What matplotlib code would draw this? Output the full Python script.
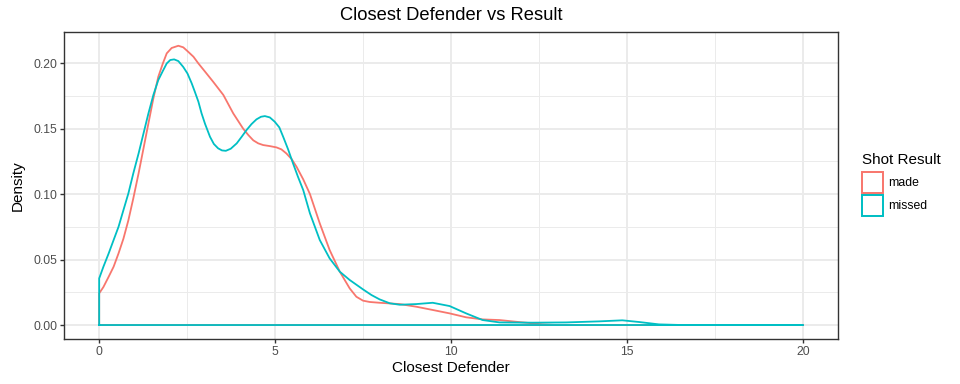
import matplotlib
matplotlib.use("Agg")
import matplotlib.pyplot as plt
from matplotlib.patches import Rectangle

plt.rcParams['font.family'] = ['Liberation Sans', 'DejaVu Sans']

# ---- data ----
made_x = [0, 0.12, 0.27, 0.41, 0.55, 0.69, 0.83, 0.97, 1.12, 1.26, 1.40, 1.54, 1.68, 1.81, 1.92,
          2.06, 2.25, 2.39, 2.53, 2.68, 2.82, 3.01, 3.24, 3.53, 3.81, 4.09, 4.24, 4.38, 4.52,
          4.66, 4.85, 5.04, 5.18, 5.32, 5.47, 5.61, 5.80, 5.99, 6.27, 6.55, 6.84, 7.12, 7.31,
          7.50, 7.69, 7.97, 8.54, 9.01, 9.48, 9.96, 10.43, 10.90, 11.38, 11.85, 12.32, 12.60,
          13.00, 20]
made_y = [0.0242, 0.029, 0.0369, 0.0445, 0.0547, 0.066, 0.080, 0.0967, 0.1158, 0.1349, 0.154,
          0.173, 0.1895, 0.1997, 0.2074, 0.2115, 0.2132, 0.212, 0.2086, 0.2048, 0.1997, 0.1934,
          0.1857, 0.1756, 0.1616, 0.150, 0.145, 0.141, 0.1387, 0.1374, 0.1366, 0.1356, 0.1341,
          0.131, 0.1267, 0.1208, 0.1112, 0.100, 0.0776, 0.0573, 0.0407, 0.028, 0.0216, 0.0186,
          0.0176, 0.017, 0.016, 0.014, 0.0115, 0.0089, 0.0059, 0.0043, 0.0038, 0.0025, 0.0013,
          0.0005, 0.0, 0.0]

missed_x = [0, 0.12, 0.27, 0.41, 0.55, 0.69, 0.83, 0.97, 1.12, 1.26, 1.40, 1.54, 1.68, 1.81,
            1.92, 2.02, 2.13, 2.25, 2.39, 2.51, 2.63, 2.72, 2.82, 2.91, 3.01, 3.15, 3.26, 3.38,
            3.49, 3.60, 3.74, 3.91, 4.05, 4.19, 4.33, 4.47, 4.60, 4.71, 4.85, 4.99, 5.12, 5.23,
            5.37, 5.51, 5.65, 5.80, 5.99, 6.27, 6.55, 6.84, 7.12, 7.50, 7.74, 7.97, 8.26, 8.54,
            9.01, 9.48, 9.96, 10.43, 10.90, 11.38, 12.32, 13.27, 14.21, 14.87, 15.35, 15.91,
            16.58, 20]
missed_y = [0.0356, 0.0445, 0.0547, 0.0649, 0.075, 0.0878, 0.1005, 0.1158, 0.131, 0.1463,
            0.1616, 0.1756, 0.187, 0.194, 0.1997, 0.2023, 0.2028, 0.2015, 0.197, 0.192, 0.1845,
            0.178, 0.1705, 0.1616, 0.1535, 0.1437, 0.1382, 0.1349, 0.1333, 0.133, 0.1346,
            0.1387, 0.1437, 0.1489, 0.1534, 0.157, 0.159, 0.1595, 0.1585, 0.1552, 0.1509,
            0.1437, 0.1341, 0.1234, 0.1132, 0.103, 0.0853, 0.0649, 0.0509, 0.0407, 0.0344,
            0.0272, 0.0229, 0.0196, 0.0166, 0.0155, 0.016, 0.017, 0.0145, 0.0089, 0.0038, 0.002,
            0.0018, 0.002, 0.0028, 0.0036, 0.0023, 0.0005, 0.0, 0.0]

series_names = ["made", "missed"]
series_colors = ["#F8766D", "#00BFC4"]
x_ticks = [0, 5, 10, 15, 20]
y_ticks = [0.00, 0.05, 0.10, 0.15, 0.20]
y_tick_labels = ["0.00", "0.05", "0.10", "0.15", "0.20"]

# ---- figure ----
W, H, DPI = 960, 384, 100
fig = plt.figure(figsize=(W / DPI, H / DPI), dpi=DPI)
L, R, T, B = 64, 838, 32, 339
ax = fig.add_axes([L / W, 1 - B / H, (R - L) / W, (B - T) / H])

ax.set_xlim(-1, 21)
ax.set_ylim(-0.01066, 0.2237)

# grid
for v in [2.5, 7.5, 12.5, 17.5]:
    ax.axvline(v, color="#EBEBEB", lw=0.71, zorder=0)
for v in [0.025, 0.075, 0.125, 0.175]:
    ax.axhline(v, color="#EBEBEB", lw=0.71, zorder=0)
for v in x_ticks:
    ax.axvline(v, color="#EBEBEB", lw=1.42, zorder=0)
for v in y_ticks:
    ax.axhline(v, color="#EBEBEB", lw=1.42, zorder=0)

# density outlines (closed polygon outline like geom_density)
for xs, ys, c in [(made_x, made_y, series_colors[0]), (missed_x, missed_y, series_colors[1])]:
    px = [xs[0]] + list(xs) + [xs[-1], xs[0]]
    py = [0.0] + list(ys) + [0.0, 0.0]
    ax.plot(px, py, color=c, lw=1.3, solid_joinstyle="round", zorder=3)

ax.set_xticks(x_ticks)
ax.set_xticklabels([str(v) for v in x_ticks])
ax.set_yticks(y_ticks)
ax.set_yticklabels(y_tick_labels)
ax.tick_params(axis="both", length=2.75, width=1.0, color="#333333",
               labelsize=8.8, labelcolor="#4D4D4D", pad=2.2)
for s in ax.spines.values():
    s.set_color("#333333")
    s.set_linewidth(1.0)

ax.set_xlabel("Closest Defender", fontsize=11, color="black", labelpad=2.5)
ax.set_ylabel("Density", fontsize=11, color="black", labelpad=6)
fig.text((L + R) / 2 / W, 1 - 15 / H, "Closest Defender vs Result", fontsize=13.2,
         ha="center", va="center", color="black")

# legend (drawn as ggplot-style keys)
fig.text(862 / W, 1 - 160 / H, "Shot Result", fontsize=11, ha="left", va="center")
key_tops = [172, 195]
for name, c, top in zip(series_names, series_colors, key_tops):
    fig.patches.append(Rectangle((862 / W, 1 - (top + 21) / H), 21 / W, 21 / H,
                                 transform=fig.transFigure, facecolor="white",
                                 edgecolor=c, lw=1.42))
    fig.text(888 / W, 1 - (top + 11) / H, name, fontsize=8.8, ha="left", va="center")

fig.savefig("out.png", dpi=DPI)
